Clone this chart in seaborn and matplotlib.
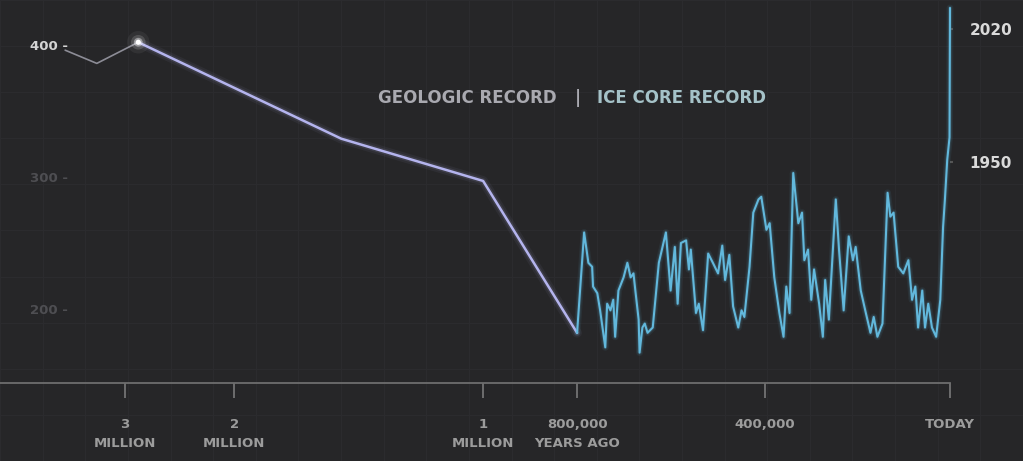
import numpy as np
import pandas as pd
import matplotlib
matplotlib.use('Agg')
import matplotlib.pyplot as plt
import seaborn as sns

# --- Data: thousand years ago vs CO2 (ppm) ---
GEO_KYR = [3550, 3260, 2880, 1570, 1000, 800]
GEO_PPM = [396, 386, 402, 329, 297, 182]

ICE_KYR = [800, 785, 776, 768, 766, 757, 751, 740, 736, 729, 723, 719, 712, 701, 693,
           686, 680, 676, 669, 667, 661, 656, 650, 639, 626, 611, 601, 592, 586, 579,
           568, 562, 558, 547, 541, 532, 521, 511, 500, 491, 485, 476, 468, 457, 450,
           444, 433, 425, 414, 408, 397, 390, 380, 369, 360, 354, 347, 339, 328, 320,
           315, 307, 300, 294, 283, 275, 270, 262, 247, 240, 230, 219, 210, 204, 193,
           182, 172, 165, 157, 146, 135, 129, 122, 112, 101, 90, 82, 75, 69, 60,
           54, 47, 39, 30, 21, 15, 11, 6, 1, 0]
ICE_PPM = [182, 258, 235, 232, 217, 212, 199, 171, 204, 199, 207, 179, 214, 224, 235,
           224, 227, 214, 192, 167, 186, 189, 182, 186, 235, 258, 214, 247, 204, 250,
           252, 230, 245, 197, 204, 184, 242, 235, 227, 248, 222, 241, 202, 186, 199,
           194, 232, 273, 283, 285, 260, 265, 224, 197, 179, 217, 197, 303, 265, 273,
           237, 245, 207, 230, 204, 179, 222, 192, 283, 245, 199, 255, 237, 247, 214,
           197, 182, 194, 179, 189, 288, 270, 273, 232, 227, 237, 207, 217, 186, 214,
           186, 204, 186, 179, 207, 262, 283, 313, 330, 428]

TICK_KYR = [3000, 2000, 1000, 800, 400, 0]
TICK_LABELS = ['3\nMILLION', '2\nMILLION', '1\nMILLION', '800,000\nYEARS AGO', '400,000', 'TODAY']
PPM_TICKS = [200, 300, 400]
PPM_LABELS = ['200 -', '300 -', '400 -']
YEAR_TICKS = [311, 412]
YEAR_LABELS = ['1950', '2020']

# piecewise time axis (geologic part compressed, ice core part stretched)
AXIS_T = [-4200, -3000, -2000, -1000, -800, -400, 0]
AXIS_POS = [-6, 125, 234, 483, 577, 765, 950]

def fwd(t):
    return np.interp(t, AXIS_T, AXIS_POS)

def inv(p):
    return np.interp(p, AXIS_POS, AXIS_T)

BG = '#262628'
GEO_COLOR = '#b4b4ee'
ICE_COLOR = '#62b8dc'

sns.set_theme(style='dark')
plt.rcParams['font.family'] = ['DejaVu Sans']

fig = plt.figure(figsize=(10.23, 4.61), dpi=100)
fig.patch.set_facecolor(BG)

# faint background grid
bg = fig.add_axes([0, 0, 1, 1], zorder=-1)
bg.set_facecolor(BG)
bg.set_xlim(0, 1)
bg.set_ylim(0, 1)
bg.set_xticks(np.linspace(0, 1, 25))
bg.set_yticks(np.linspace(0, 1, 11))
bg.grid(True, color='#2b2b2e', lw=0.8)
bg.tick_params(length=0, labelbottom=False, labelleft=False)
for s in bg.spines.values():
    s.set_visible(False)

ax = fig.add_axes([0, 78 / 461, 950 / 1023, 383 / 461])
ax.set_facecolor('none')
ax.set_xscale('function', functions=(fwd, inv))

geo = pd.DataFrame({'t': [-k for k in GEO_KYR], 'ppm': GEO_PPM})
ice = pd.DataFrame({'t': [-k for k in ICE_KYR], 'ppm': ICE_PPM})

# geologic record: dim start, glowing lavender after the peak
sns.lineplot(data=geo.iloc[:3], x='t', y='ppm', ax=ax, color='#8c8c96', lw=1.2,
             sort=False, estimator=None, clip_on=False)
for lw, a in [(7, 0.06), (4, 0.12), (1.8, 1.0)]:
    sns.lineplot(data=geo.iloc[2:], x='t', y='ppm', ax=ax, color=GEO_COLOR, lw=lw,
                 alpha=a, sort=False, estimator=None)

# ice core record
for lw, a in [(5, 0.08), (3, 0.15), (1.5, 1.0)]:
    sns.lineplot(data=ice, x='t', y='ppm', ax=ax, color=ICE_COLOR, lw=lw, alpha=a,
                 sort=False, estimator=None, clip_on=False)

# glowing point at the geologic peak
peak = geo.iloc[[2]]
for s, a in [(260, 0.06), (110, 0.15), (40, 0.4), (14, 1.0)]:
    sns.scatterplot(data=peak, x='t', y='ppm', ax=ax, color='white', s=s, alpha=a,
                    edgecolor='none', zorder=5)

ax.set_xlim(-4147, 0)
ax.set_ylim(144, 434)
ax.set_xlabel('')
ax.set_ylabel('')

ax.set_xticks([-k for k in TICK_KYR])
ax.set_xticklabels(TICK_LABELS, fontsize=9.5, fontweight='bold', color='#9c9c9c',
                   linespacing=1.6)
ax.tick_params(axis='x', direction='out', length=11, width=1.2, color='#7a7a7a', pad=14,
               bottom=True)

ax.set_yticks(PPM_TICKS)
ax.set_yticklabels(PPM_LABELS, fontsize=9.5, fontweight='bold')
ax.tick_params(axis='y', length=0, pad=-49)
for lbl, c in zip(ax.get_yticklabels(), ['#4e4e52', '#4e4e52', '#d4d4d4']):
    lbl.set_color(c)

sec = ax.secondary_yaxis('right')
sec.set_yticks(YEAR_TICKS)
sec.set_yticklabels(YEAR_LABELS, fontsize=11, fontweight='bold', color='#dadada')
sec.tick_params(length=2, width=1.5, color='#555555', pad=12)
sec.spines['right'].set_visible(False)

for side in ['top', 'right', 'left']:
    ax.spines[side].set_visible(False)
ax.spines['bottom'].set_color('#6e6e6e')
ax.spines['bottom'].set_linewidth(1.3)
ax.grid(False)

fig.text(557 / 1023, 1 - 98 / 461, 'GEOLOGIC RECORD', ha='right', va='center',
         fontsize=12, fontweight='bold', color='#a9a9b0')
fig.text(578 / 1023, 1 - 98 / 461, '|', ha='center', va='center',
         fontsize=12, fontweight='bold', color='#a9a9b0')
fig.text(597 / 1023, 1 - 98 / 461, 'ICE CORE RECORD', ha='left', va='center',
         fontsize=12, fontweight='bold', color='#a5c2c8')

fig.savefig('out.png', dpi=100, facecolor=fig.get_facecolor())
